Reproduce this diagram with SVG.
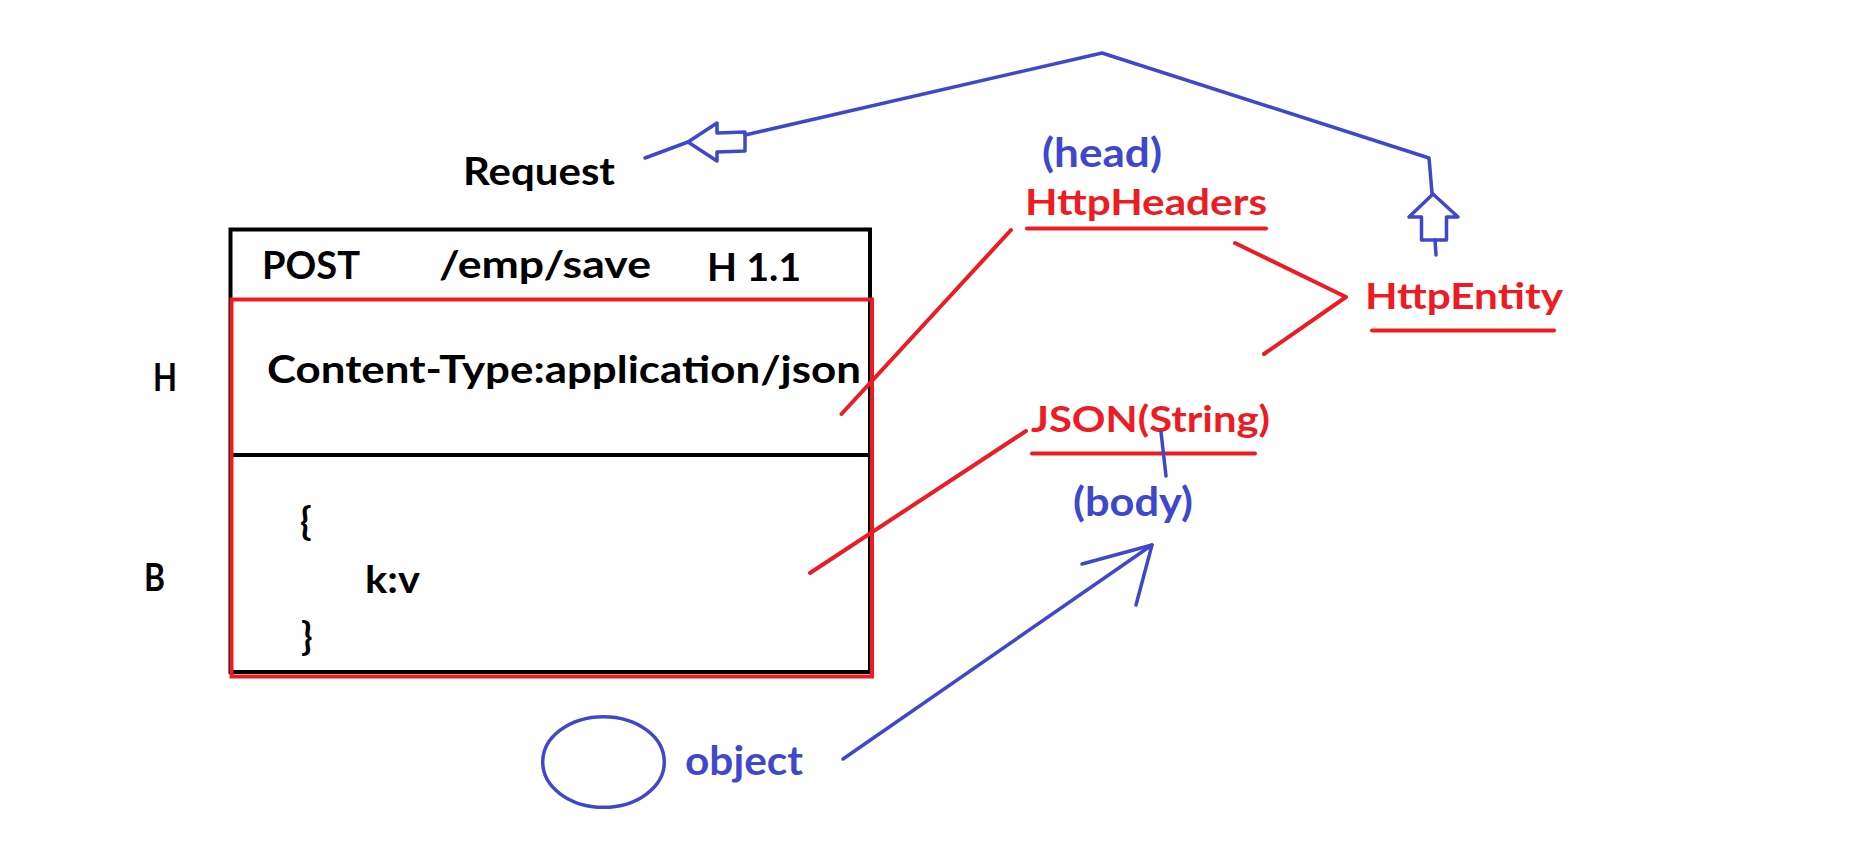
<svg xmlns="http://www.w3.org/2000/svg" width="1865" height="843" viewBox="0 0 1865 843">
<style>
text{font-family:Lato,"Open Sans","Liberation Sans",sans-serif;font-weight:700}
.k{fill:#000;font-size:38px}
.r{fill:#ed1c24;font-size:36px}
.b{fill:#3f48cc;font-size:40px}
.rl{stroke:#ed1c24;stroke-width:4;fill:none;stroke-linecap:round;stroke-linejoin:round}
.bl{stroke:#3f48cc;stroke-width:3.5;fill:none;stroke-linecap:round;stroke-linejoin:round}
</style>
<rect x="0" y="0" width="1865" height="843" fill="#fff"/>
<g id="request-label"><text class="k" x="463" y="185" font-size="39" textLength="152" lengthAdjust="spacingAndGlyphs">Request</text></g>
<g id="request-box">
<rect x="230.5" y="229.5" width="639.5" height="442.5" fill="none" stroke="#000" stroke-width="4"/>
<line x1="231" y1="455" x2="870" y2="455" stroke="#000" stroke-width="4"/>
<rect x="231.5" y="299.5" width="640.5" height="377" fill="none" stroke="#ed1c24" stroke-width="4"/>
<text class="k" x="262" y="279" textLength="98" lengthAdjust="spacingAndGlyphs">POST</text>
<text class="k" x="439" y="278" textLength="212" lengthAdjust="spacingAndGlyphs">/emp/save</text>
<text class="k" x="707" y="280.5" textLength="94" lengthAdjust="spacingAndGlyphs">H 1.1</text>
<text class="k" x="267" y="383" textLength="594" lengthAdjust="spacingAndGlyphs">Content-Type:application/json</text>
<text class="k" x="300" y="535">{</text>
<text class="k" x="365" y="593" textLength="55" lengthAdjust="spacingAndGlyphs">k:v</text>
<text class="k" x="301" y="650">}</text>
</g>
<g id="label-h"><text class="k" x="153" y="390.5" font-size="39" textLength="24" lengthAdjust="spacingAndGlyphs">H</text></g>
<g id="label-b"><text class="k" x="144" y="590.5" font-size="37" textLength="21" lengthAdjust="spacingAndGlyphs">B</text></g>
<g id="head"><text class="b" x="1042" y="167" textLength="120" lengthAdjust="spacingAndGlyphs">(head)</text></g>
<g id="http-headers">
<text class="r" x="1025" y="215" textLength="242" lengthAdjust="spacingAndGlyphs">HttpHeaders</text>
<line class="rl" x1="1027" y1="228.5" x2="1266" y2="228.5"/>
</g>
<g id="http-entity">
<text class="r" x="1365" y="308.5" textLength="198" lengthAdjust="spacingAndGlyphs">HttpEntity</text>
<line class="rl" x1="1372" y1="330.5" x2="1554" y2="330.5"/>
</g>
<g id="json-string">
<text class="r" x="1031" y="431.5" font-size="37" textLength="239" lengthAdjust="spacingAndGlyphs">JSON(String)</text>
<line class="rl" x1="1032" y1="453.5" x2="1255" y2="453.5"/>
</g>
<g id="body"><text class="b" x="1073" y="516" textLength="120" lengthAdjust="spacingAndGlyphs">(body)</text></g>
<g id="object">
<ellipse cx="603.5" cy="762" rx="60.8" ry="45.3" fill="none" stroke="#3f48cc" stroke-width="3.5"/>
<text class="b" x="685" y="775" textLength="118" lengthAdjust="spacingAndGlyphs">object</text>
</g>
<g id="connectors">
<line class="rl" x1="841.5" y1="414" x2="1011" y2="230"/>
<line class="rl" x1="810" y1="573" x2="1026" y2="431"/>
<polyline class="rl" points="1235,243 1346,297 1264,354"/>
<line class="bl" x1="645" y1="158" x2="688" y2="142"/>
<polygon class="bl" points="688,142 717,123 717,133 745,132 745,151 717,152 717,161"/>
<polyline class="bl" points="745,135 1102,53 1429,158 1432,193"/>
<polygon class="bl" points="1433,194 1409,217 1421.5,217 1421.5,240 1446.5,240 1446.5,217 1458,217"/>
<line class="bl" x1="1435" y1="240" x2="1436" y2="255"/>
<line class="bl" x1="1161" y1="432" x2="1166" y2="476" stroke-width="3"/>
<line class="bl" x1="843" y1="759" x2="1152" y2="545"/>
<polyline class="bl" points="1082,564 1152,545 1136,605"/>
</g>
</svg>
